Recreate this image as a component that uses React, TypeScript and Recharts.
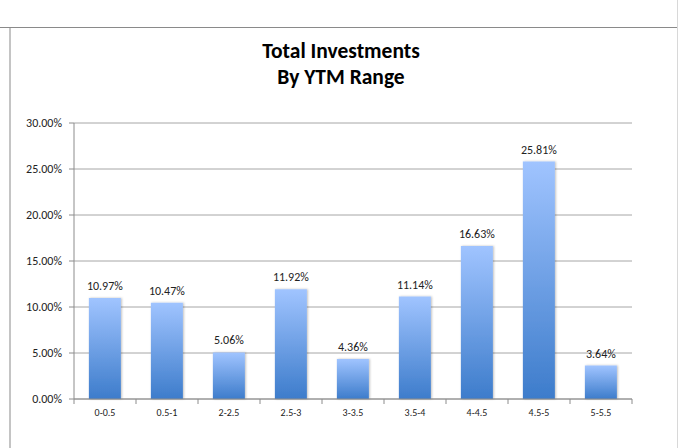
import React from 'react';
import { BarChart, Bar, XAxis, YAxis, CartesianGrid, LabelList } from 'recharts';

const categories = ['0-0.5', '0.5-1', '2-2.5', '2.5-3', '3-3.5', '3.5-4', '4-4.5', '4.5-5', '5-5.5'];
const values = [10.97, 10.47, 5.06, 11.92, 4.36, 11.14, 16.63, 25.81, 3.64];
const yTicks = [0, 5, 10, 15, 20, 25, 30];
const titleLines = ['Total Investments', 'By YTM Range'];

const data = categories.map((c, i) => ({ name: c, value: values[i] }));

const W = 678;
const H = 448;
const M = { top: 123, right: 46, left: 0, bottom: 19 };
const Y_W = 74;
const FONT = 'Carlito, Calibri, "Open Sans", sans-serif';

const XTick = (props: any) => {
  const { x, y, payload, index } = props;
  const band = (W - M.left - M.right - Y_W) / categories.length;
  const axisY = y - 8;
  return (
    <g>
      <line x1={x - band / 2} x2={x - band / 2} y1={axisY} y2={axisY + 5} stroke="#8c8c8c" />
      {index === categories.length - 1 && (
        <line x1={x + band / 2} x2={x + band / 2} y1={axisY} y2={axisY + 5} stroke="#8c8c8c" />
      )}
      <text x={x} y={y + 9} textAnchor="middle" fontSize={10} fill="#222" fontFamily={FONT}>
        {payload.value}
      </text>
    </g>
  );
};

export default function App() {
  return (
    <div style={{ position: 'absolute', left: 0, top: 0, width: W, height: H, background: '#fff', overflow: 'hidden' }}>
      <div style={{ position: 'absolute', left: 0, top: 27, width: W, height: 1, background: '#8a8a8a' }} />
      <div style={{ position: 'absolute', left: 9, top: 28, width: 2, height: H - 28, background: '#c4c4c4' }} />
      <div style={{ position: 'absolute', left: 677, top: 0, width: 1, height: H, background: '#d8d8d8' }} />
      <div
        style={{
          position: 'absolute',
          left: 0,
          width: W,
          top: 38,
          textAlign: 'center',
          fontFamily: FONT,
          fontWeight: 'bold',
          fontSize: 21.5,
          lineHeight: '26px',
          color: '#000',
          paddingLeft: 4,
          boxSizing: 'border-box',
        }}
      >
        {titleLines.map((t) => (
          <div key={t}>{t}</div>
        ))}
      </div>
      <div style={{ position: 'absolute', left: 0, top: 0 }}>
        <BarChart width={W} height={H} data={data} margin={M} barCategoryGap="24%">
          <defs>
            <linearGradient id="barGrad" x1="0" y1="0" x2="0" y2="1">
              <stop offset="0%" stopColor="#a0c4ff" />
              <stop offset="100%" stopColor="#3d7ccb" />
            </linearGradient>
            <filter id="shadow" x="-20%" y="-5%" width="140%" height="110%">
              <feDropShadow dx="1" dy="0" stdDeviation="1" floodColor="#000" floodOpacity="0.25" />
            </filter>
          </defs>
          <CartesianGrid vertical={false} stroke="#a6a6a6" />
          <XAxis
            dataKey="name"
            tickLine={false}
            axisLine={{ stroke: '#8c8c8c' }}
            tick={<XTick />}
            interval={0}
            height={30}
          />
          <YAxis
            domain={[0, 30]}
            ticks={yTicks}
            width={Y_W}
            tickSize={5}
            tickMargin={7}
            tickLine={{ stroke: '#8c8c8c' }}
            axisLine={{ stroke: '#8c8c8c' }}
            tick={{ fontSize: 12, fill: '#222', fontFamily: FONT }}
            tickFormatter={(v: number) => v.toFixed(2) + '%'}
          />
          <Bar dataKey="value" fill="url(#barGrad)" filter="url(#shadow)" isAnimationActive={false}>
            <LabelList
              dataKey="value"
              position="top"
              offset={8}
              formatter={(v: any) => Number(v).toFixed(2) + '%'}
              style={{ fontSize: 12, fill: '#222', fontFamily: FONT }}
            />
          </Bar>
        </BarChart>
      </div>
    </div>
  );
}
